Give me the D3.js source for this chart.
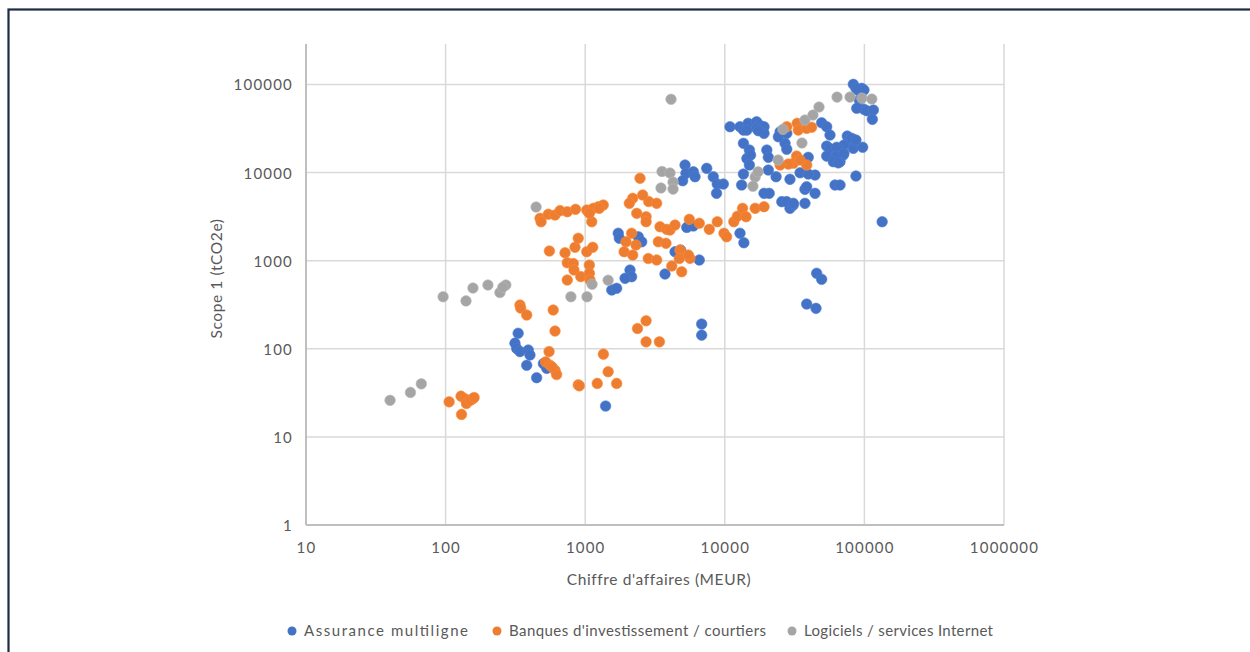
<!DOCTYPE html>
<html>
<head>
<meta charset="utf-8">
<script src="https://cdn.jsdelivr.net/npm/d3@7"></script>
<style>
  body { margin: 0; background: #ffffff; }
  svg { display: block; }
  text { font-family: "Lato", "Liberation Sans", sans-serif; fill: #595959; }
</style>
</head>
<body>
<svg id="chart" width="1250" height="652"></svg>
<script>
// Axis ticks (log scales, one per decade)
const xTicks = [10, 100, 1000, 10000, 100000, 1000000];
const yTicks = [1, 10, 100, 1000, 10000, 100000];

const seriesNames = ["Assurance multiligne", "Banques d'investissement / courtiers", "Logiciels / services Internet"];
const seriesColors = ["#4472C4", "#ED7D31", "#A5A5A5"];
// legend label widths and dot positions
const legendTextWidths = [164, 257, 189];
const legendDotX = [292, 497, 792];

// [chiffre d'affaires (MEUR), scope 1 (tCO2e)]
const assurance = [
  [331,150],[314,116],[323,101],[341,93],[391,97],[402,85],[381,65],[449,47],[502,68],[530,60],[1400,22.4],
  [1725,2050],[1755,1800],[2400,1870],[2540,1640],[2094,784],[2150,658],[1930,631],[1550,465],[1680,486],
  [3730,706],[4400,1265],[4830,1320],[6565,1018],[5340,2390],[5950,2480],[12850,2050],[13700,1600],
  [45500,720],[49400,615],[38600,322],[45000,288],[6830,191],[6830,143],[134000,2770],
  [25600,4680],[29300,3930],[37500,4480],[30950,4290],[27760,4680],[30950,4480],[44300,5820],[37500,6460],[61600,7230],
  [83300,100500],[95600,90500],[89400,86600],[99300,86600],[92000,66700],[99300,52300],[104000,50400],[116000,51350],
  [114000,40250],[75400,26000],[78000,23440],[84200,23440],[83300,18860],[71400,20600],[70600,15850],[66900,13300],
  [97200,19400],[87000,9150],[66900,7230],
  [5190,12200],[5270,9810],[4990,8090],[5950,10230],[6120,8980],[7420,11180],[8270,8980],[8830,7420],[9760,7420],
  [8730,5820],[13200,7230],[13600,9630],[13600,21500],[14400,14500],[15000,18050],[15300,15800],[15000,12200],
  [20000,18050],[20500,14900],[20500,10700],[23300,8980],[19100,5820],[20800,5820],[27000,21500],[27800,18400],
  [29300,8390],[34600,9960],[38600,6920],[39600,14900],[44300,9380],[39600,9630],[49400,36800],[53700,33200],
  [56700,26700],[53700,20000],[56100,18860],[53700,15400],[63300,19400],[62600,15400],[59900,13300],[65000,12900],
  [71400,16550],[81100,24500],[87000,23440],[87000,90500],[88100,53700],[10900,33200],[12850,33200],[13600,30400],
  [14700,36300],[16900,37800],[17700,34700],[19100,33200],[19100,27900],[16900,31800],[14400,30400],[17400,29900],
  [24900,29100],[24200,25500],[27800,27900]
];

const banques = [
  [106,25],[129,29],[138,27],[141,24],[156,27],[130,18],[150,26],[160,28],
  [341,314],[345,290],[381,242],[590,276],[608,159],[551,93],[521,71],[560,65],[608,57],[624,51],[892,39],[580,62],
  [475,3030],[483,2770],[544,3370],[608,3300],[660,3700],[744,3600],[853,3830],[1053,3600],[1114,2770],[1240,4100],
  [1347,4290],[1026,3760],[1144,3930],[1260,3930],
  [554,1290],[717,1230],[845,1420],[744,950],[822,930],[831,784],[744,604],[892,1800],[929,660],[1026,1265],
  [1132,1420],[1071,893],[1071,719],[1083,604],[1071,3460],
  [2340,3450],[2730,3160],[2730,2770],[2850,4700],[3250,4480],[3435,2430],[3835,2270],[4050,2231],[4400,2540],
  [5570,2950],[6565,2660],[7740,2270],[8830,2770],[9870,2050],[10300,1870],[11600,2770],[12300,3200],[13400,3930],
  [14200,3160],[16500,3930],[19100,4100],[2150,2050],[1960,1640],[2310,1510],[1900,1265],[2190,1160],[2830,1060],
  [3250,1020],[3340,1640],[3790,1575],[4170,870],[4776,1323],[4720,1060],[4910,750],[5630,1064],[5480,1160],
  [2730,208],[2370,170],[2730,120],[3400,120],[1350,87],[1460,55],[1220,40.5],[1680,40.5],[908,38],
  [2470,8620],[2190,5110],[2580,5570],[2070,4480],
  [27800,33200],[33000,36300],[33600,30400],[38600,31800],[41900,32700],[32700,15400],[31000,12750],[28500,12500],
  [38600,12200],[24900,12200],[34600,13900]
];

const logiciels = [
  [40,26],[56,32],[67,40],[96,390],[140,350],[157,490],[201,530],[245,435],[270,530],[257,500],[445,4070],
  [790,390],[1030,390],[1120,540],[1460,600],[4120,68000],[3550,10300],[4050,9900],[4260,7800],[3490,6700],
  [4260,6500],[16500,8900],[15900,7000],[17300,10200],[24100,13900],[26100,31000],[35700,21700],[37500,39500],
  [42800,45000],[47300,55600],[63700,72000],[78900,72000],[96000,70000],[113000,68500]
];

const series = [assurance, banques, logiciels];

const svg = d3.select("#chart");

// Outer frame
svg.append("rect")
  .attr("x", 8.5).attr("y", 9.5)
  .attr("width", 1300).attr("height", 700)
  .attr("fill", "none")
  .attr("stroke", "#1d2b45")
  .attr("stroke-width", 2.2);

const plot = { left: 306, right: 1004, top: 44, bottom: 525 };

const x = d3.scaleLog().domain([10, 1000000]).range([plot.left, plot.right]);
const y = d3.scaleLog().domain([1, Math.pow(10, 5.46)]).range([plot.bottom, plot.top]);

// Gridlines
const grid = svg.append("g");
grid.selectAll("line.h")
  .data(yTicks.filter(d => d > 1))
  .join("line")
  .attr("x1", plot.left).attr("x2", plot.right)
  .attr("y1", d => y(d)).attr("y2", d => y(d))
  .attr("stroke", "#d9d9d9").attr("stroke-width", 1.5);
grid.selectAll("line.v")
  .data(xTicks.filter(d => d > 10))
  .join("line")
  .attr("x1", d => x(d)).attr("x2", d => x(d))
  .attr("y1", plot.top).attr("y2", plot.bottom)
  .attr("stroke", "#d9d9d9").attr("stroke-width", 1.5);

// Axes
const fmt = d3.format("d");
const yAxis = svg.append("g")
  .attr("transform", `translate(${plot.left},0)`)
  .call(d3.axisLeft(y).tickValues(yTicks).tickFormat(fmt).tickSize(0).tickPadding(13));
const xAxis = svg.append("g")
  .attr("transform", `translate(0,${plot.bottom})`)
  .call(d3.axisBottom(x).tickValues(xTicks).tickFormat(fmt).tickSize(0).tickPadding(17));

[yAxis, xAxis].forEach(g => {
  g.select(".domain").remove();
  g.selectAll("text")
    .attr("fill", "#595959")
    .style("font-size", "15px")
    .style("letter-spacing", "1.2px");
});
yAxis.selectAll("text").attr("dy", "0.36em");

svg.append("line")
  .attr("x1", plot.left).attr("x2", plot.left)
  .attr("y1", plot.top).attr("y2", plot.bottom)
  .attr("stroke", "#bfbfbf").attr("stroke-width", 2);
svg.append("line")
  .attr("x1", plot.left).attr("x2", plot.right)
  .attr("y1", plot.bottom).attr("y2", plot.bottom)
  .attr("stroke", "#bfbfbf").attr("stroke-width", 2);

// Axis titles
svg.append("text")
  .attr("x", (plot.left + plot.right) / 2 + 4).attr("y", 585)
  .attr("text-anchor", "middle")
  .style("font-size", "15.5px").style("letter-spacing", "0.6px")
  .text("Chiffre d'affaires (MEUR)");
svg.append("text")
  .attr("transform", `translate(222,${(plot.top + plot.bottom) / 2 - 6}) rotate(-90)`)
  .attr("text-anchor", "middle")
  .style("font-size", "15.5px").style("letter-spacing", "0.6px")
  .text("Scope 1 (tCO2e)");

// Points
series.forEach((data, i) => {
  svg.append("g")
    .selectAll("circle")
    .data(data)
    .join("circle")
    .attr("cx", d => x(d[0]))
    .attr("cy", d => y(d[1]))
    .attr("r", 5.3)
    .attr("fill", seriesColors[i])
    .attr("stroke", d3.color(seriesColors[i]).brighter(0.3))
    .attr("stroke-width", 0.6);
});

// Legend
const legend = svg.append("g").attr("transform", "translate(0,631)");
seriesNames.forEach((name, i) => {
  const item = legend.append("g").attr("transform", `translate(${legendDotX[i]},0)`);
  item.append("circle").attr("r", 4.5).attr("fill", seriesColors[i]);
  item.append("text")
    .attr("x", 12).attr("dy", "0.36em")
    .attr("textLength", legendTextWidths[i])
    .attr("lengthAdjust", "spacing")
    .style("font-size", "15px")
    .text(name);
});
</script>
</body>
</html>
